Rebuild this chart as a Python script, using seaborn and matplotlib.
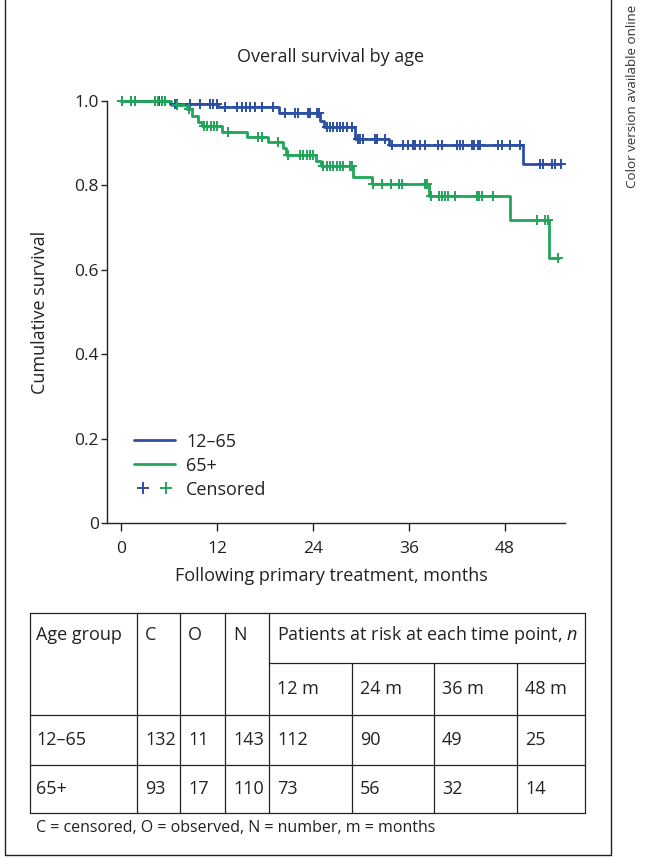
import numpy as np
import pandas as pd
import matplotlib
matplotlib.use("Agg")
import matplotlib.pyplot as plt
import seaborn as sns
from matplotlib.lines import Line2D
from matplotlib.legend_handler import HandlerTuple

# ---------------- data ----------------
groups = ["12–65", "65+"]

blue_event_t = [6.1, 12.1, 19.8, 24.9, 25.4, 29.2, 33.5, 50.3]
blue_event_s = [0.993, 0.985, 0.972, 0.953, 0.939, 0.909, 0.895, 0.850]
blue_cens_t = [0.1, 1.3, 1.7, 4.3, 4.7, 5.1, 5.5, 6.7, 7.0, 8.6, 9.9, 11.1, 11.5,
               12.0, 13.0, 14.5, 15.1, 15.6, 16.1, 16.8, 17.6, 19.0, 20.5, 21.7,
               22.1, 23.4, 23.6, 24.5, 24.7, 25.7, 26.1, 26.5, 27.0, 27.4, 27.8,
               28.2, 28.9, 29.6, 29.9, 30.3, 31.7, 32.0, 33.0, 33.9, 35.3, 35.9,
               36.5, 36.8, 37.4, 38.0, 39.6, 40.1, 42.0, 42.4, 42.8, 43.9, 44.1,
               44.6, 44.9, 47.1, 47.6, 48.6, 49.9, 52.4, 52.7, 53.9, 54.3, 55.0]
blue_end_t = 55.0

green_event_t = [6.3, 8.2, 8.9, 9.6, 10.1, 12.6, 15.7, 18.4, 20.2, 20.6, 24.4,
                 25.0, 29.0, 31.4, 38.5, 48.6, 53.5]
green_event_s = [0.991, 0.980, 0.965, 0.950, 0.940, 0.927, 0.915, 0.904, 0.888,
                 0.872, 0.858, 0.845, 0.820, 0.803, 0.774, 0.718, 0.627]
green_cens_t = [0.1, 1.3, 1.7, 4.3, 4.6, 5.1, 5.5, 7.0, 8.5, 10.4, 10.8, 11.2,
                11.6, 12.0, 13.4, 17.1, 17.6, 19.6, 20.9, 22.4, 22.8, 23.2, 23.6,
                24.0, 25.3, 25.7, 26.1, 26.5, 27.0, 27.4, 27.8, 28.6, 28.9, 31.5,
                32.6, 33.8, 34.7, 35.1, 38.0, 38.2, 38.8, 39.7, 40.1, 40.5, 40.9,
                41.8, 44.5, 44.8, 45.1, 46.5, 52.0, 53.0, 53.4, 54.6]
green_end_t = 54.7

title = "Overall survival by age"
x_label = "Following primary treatment, months"
y_label = "Cumulative survival"
x_ticks = [0, 12, 24, 36, 48]
y_ticks = [0, 0.2, 0.4, 0.6, 0.8, 1.0]
y_tick_labels = ["0", "0.2", "0.4", "0.6", "0.8", "1.0"]
legend_censored = "Censored"

table_header = ["Age group", "C", "O", "N"]
risk_header = "Patients at risk at each time point, $\\mathit{n}$"
risk_times = ["12 m", "24 m", "36 m", "48 m"]
table_groups = ["12–65", "65+"]
censored_n = [132, 93]
observed_n = [11, 17]
number_n = [143, 110]
at_risk_12_65 = [112, 90, 49, 25]
at_risk_65 = [73, 56, 32, 14]
footnote = "C = censored, O = observed, N = number, m = months"
side_note = "Color version available online"

# ---------------- style ----------------
sns.set_theme(style="ticks")
FONT = "Open Sans"
plt.rcParams["font.family"] = [FONT, "DejaVu Sans"]
plt.rcParams["mathtext.fontset"] = "custom"
plt.rcParams["mathtext.rm"] = FONT
plt.rcParams["mathtext.it"] = FONT + ":italic"
plt.rcParams["axes.edgecolor"] = "#222222"
plt.rcParams["axes.linewidth"] = 1.0
TXT = "#222222"
FS = 13

blue = "#2c4fa3"
green = "#1fa65a"
pal = {groups[0]: blue, groups[1]: green}

W, H = 645, 859
fig = plt.figure(figsize=(W / 100, H / 100), dpi=100)
fig.patch.set_facecolor("white")


def step_frame(name, ev_t, ev_s, end_t):
    t = [0.0] + list(ev_t) + [end_t]
    s = [1.0] + list(ev_s) + [ev_s[-1]]
    return pd.DataFrame({"t": t, "s": s, "group": name})


def cens_frame(name, ev_t, ev_s, c_t):
    idx = np.searchsorted(np.array(ev_t), np.array(c_t), side="right")
    levels = np.concatenate([[1.0], ev_s])
    return pd.DataFrame({"t": c_t, "s": levels[idx], "group": name})


df_line = pd.concat([step_frame(groups[0], blue_event_t, blue_event_s, blue_end_t),
                     step_frame(groups[1], green_event_t, green_event_s, green_end_t)])
df_cens = pd.concat([cens_frame(groups[0], blue_event_t, blue_event_s, blue_cens_t),
                     cens_frame(groups[1], green_event_t, green_event_s, green_cens_t)])

# ---------------- main axes ----------------
ax = fig.add_axes([107 / W, 1 - 523 / H, 458 / W, 422 / H])
for g in groups:
    sns.lineplot(data=df_line[df_line.group == g], x="t", y="s", color=pal[g],
                 drawstyle="steps-post", estimator=None, sort=False, lw=2.0,
                 ax=ax, legend=False, clip_on=False, zorder=3)
    sns.scatterplot(data=df_cens[df_cens.group == g], x="t", y="s", color=pal[g],
                    marker="+", s=60, linewidth=1.4, ax=ax, legend=False,
                    clip_on=False, zorder=4)

ax.set_xlim(-1.75, 55.5)
ax.set_ylim(0, 1.0)
ax.set_xticks(x_ticks)
ax.set_xticklabels([str(v) for v in x_ticks])
ax.set_yticks(y_ticks)
ax.set_yticklabels(y_tick_labels)
ax.set_xlabel("")
ax.set_ylabel("")
ax.tick_params(axis="both", direction="out", length=6, width=1.0,
               labelsize=12.5, colors=TXT, pad=7)
ax.tick_params(axis="y", length=4, pad=2)
sns.despine(ax=ax)

handles = [Line2D([], [], color=blue, lw=2.0),
           Line2D([], [], color=green, lw=2.0),
           (Line2D([], [], color=blue, marker="+", ls="none", ms=8, mew=1.4),
            Line2D([], [], color=green, marker="+", ls="none", ms=8, mew=1.4))]
leg = ax.legend(handles, [groups[0], groups[1], legend_censored],
                handler_map={tuple: HandlerTuple(ndivide=None, pad=0.3)},
                loc="upper left", bbox_to_anchor=(0.058, 0.214), frameon=False,
                fontsize=FS, handlelength=2.3, handletextpad=0.6,
                labelspacing=0.33, borderpad=0, borderaxespad=0)
for t in leg.get_texts():
    t.set_color(TXT)

# ---------------- overlay in pixel coordinates ----------------
ov = fig.add_axes([0, 0, 1, 1], zorder=-1)
ov.set_xlim(0, W)
ov.set_ylim(H, 0)
ov.axis("off")

ov.text(331, 57, title, ha="center", va="center", fontsize=FS, color=TXT)
ov.text(331, 576, x_label, ha="center", va="center", fontsize=FS, color=TXT)
ov.text(40, 312, y_label, ha="center", va="center", rotation=90, fontsize=FS, color=TXT)
ov.text(632, 96, side_note, ha="center", va="center", rotation=90, fontsize=9.6,
        color="#333333")

# frame
fl = dict(color="#222222", lw=1.0)
ov.plot([5, 5], [0, 855], **fl)
ov.plot([611, 611], [0, 855], **fl)
ov.plot([5, 611], [855, 855], **fl)

# table
tl = dict(color="#222222", lw=0.9)
xr = 585
cols = [30, 137, 180, 225, 269, 352, 434, 517]
pads = [6, 8, 8, 8, 8, 8, 8, 8]
for y in [613, 715, 765, 813]:
    ov.plot([30, xr], [y, y], **tl)
ov.plot([269, xr], [663, 663], **tl)
for x in [30, 137, 180, 225, 269, xr]:
    ov.plot([x, x], [613, 813], **tl)
for x in [352, 434, 517]:
    ov.plot([x, x], [663, 813], **tl)

yh = 635
for c, p, lab in zip(cols[:4], pads[:4], table_header):
    ov.text(c + p, yh, lab, ha="left", va="center", fontsize=FS, color=TXT)
ov.text(269 + 8, yh, risk_header, ha="left", va="center", fontsize=FS, color=TXT)
for c, p, lab in zip(cols[4:], pads[4:], risk_times):
    ov.text(c + p, 689, lab, ha="left", va="center", fontsize=FS, color=TXT)

row_vals = [
    [table_groups[0], censored_n[0], observed_n[0], number_n[0]] + at_risk_12_65,
    [table_groups[1], censored_n[1], observed_n[1], number_n[1]] + at_risk_65,
]
for yrow, vals in zip([740, 789], row_vals):
    for c, p, v in zip(cols, pads, vals):
        ov.text(c + p, yrow, str(v), ha="left", va="center", fontsize=FS, color=TXT)

ov.text(36, 828, footnote, ha="left", va="center", fontsize=11.5, color=TXT)

fig.savefig("out.png", dpi=100)
